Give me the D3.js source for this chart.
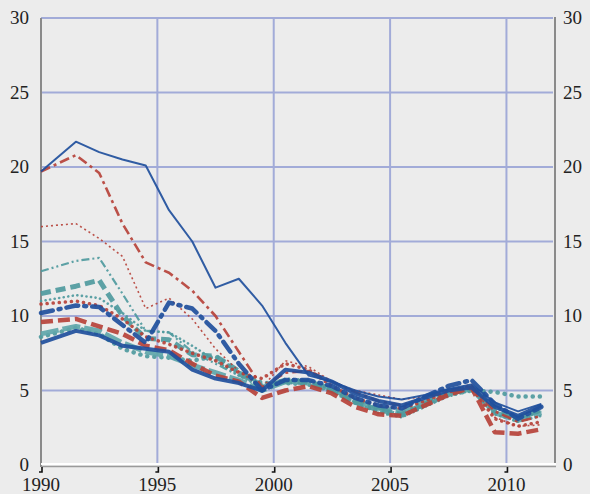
<!DOCTYPE html>
<html>
<head>
<meta charset="utf-8">
<script src="https://cdn.jsdelivr.net/npm/d3@7"></script>
<style>
body { margin: 0; background: #ececec; }
svg text { font-family: "Liberation Serif", "DejaVu Serif", serif; }
</style>
</head>
<body>
<script>
// x positions (first point at start of 1990, the rest mid-year)
let years = [1990, 1991.5, 1992.5, 1993.5, 1994.5, 1995.5, 1996.5, 1997.5, 1998.5, 1999.5, 2000.5,
	2001.5, 2002.5, 2003.5, 2004.5, 2005.5, 2006.5, 2007.5, 2008.5, 2009.5, 2010.5, 2011.5];

let yTicks = [0, 5, 10, 15, 20, 25, 30];
let xTicks = [1990, 1995, 2000, 2005, 2010];

let sA = [19.7,21.7,21.0,20.5,20.1,17.1,15.0,11.9,12.5,10.7,8.2,6.0,5.6,5.0,4.6,4.4,4.7,5.1,5.4,4.2,3.6,4.1];
let sB = [19.7,20.8,19.6,16.2,13.6,12.9,11.7,10.0,7.6,5.2,6.2,6.3,5.6,4.9,4.3,4.0,4.5,5.0,5.3,3.6,2.9,3.3];
let sC = [16.0,16.2,15.2,14.0,10.5,11.2,9.8,7.8,6.3,5.2,7.0,6.6,5.6,5.0,4.7,4.4,4.6,5.0,5.4,3.2,2.6,2.7];
let sD = [13.0,13.7,13.9,11.5,9.0,8.9,7.6,6.8,6.0,5.3,5.8,5.6,5.2,4.4,3.8,3.4,4.0,4.8,5.3,3.9,3.0,3.6];
let sE = [11.5,12.0,12.4,10.0,8.5,8.4,7.4,7.3,6.3,5.3,5.6,5.5,5.0,4.2,3.7,3.4,4.1,4.8,5.2,3.6,3.2,3.7];
let sL = [11.0,11.4,11.2,10.2,9.0,8.9,8.0,7.0,6.0,5.2,5.8,5.7,5.0,4.2,3.5,3.2,3.9,4.6,5.0,3.4,2.9,3.3];
let sF = [10.8,11.0,10.7,9.8,8.6,8.1,7.5,7.0,6.2,5.8,6.8,6.4,5.3,4.5,4.0,3.8,4.3,4.9,5.2,3.1,2.6,2.9];
let sG = [10.2,10.7,10.6,9.4,8.2,10.9,10.5,9.0,6.8,5.0,5.7,5.7,5.3,4.5,4.0,3.8,4.6,5.3,5.7,4.1,3.1,3.9];
let sH = [9.6,9.8,9.3,8.8,8.0,7.7,6.8,6.0,5.6,4.5,5.0,5.3,4.8,3.9,3.4,3.3,4.0,4.7,5.2,2.2,2.1,2.4];
let sI = [8.8,9.3,9.0,8.2,7.6,7.3,6.7,6.2,5.7,5.0,5.6,5.6,5.1,4.3,3.8,3.6,4.2,4.8,5.1,3.5,3.0,3.5];
let sJ = [8.2,9.0,8.7,8.0,7.8,7.6,6.4,5.8,5.5,5.0,6.4,6.2,5.6,4.8,4.3,4.0,4.5,5.0,5.2,3.9,3.3,4.0];
let sK = [8.6,9.2,8.8,7.8,7.3,7.2,7.0,7.3,6.2,5.5,5.5,5.4,5.0,4.2,3.6,3.3,4.0,4.7,5.0,4.9,4.6,4.6];

let blue = "#1f4f9c", red = "#b6423a", teal = "#4f9a9e";

// drawn back to front
let series = [
	{v: sK, c: teal, w: 4.5, dash: "0.1,7", cap: "round"},
	{v: sI, c: "#5fa6aa", w: 5, dash: "18,4"},
	{v: sL, c: teal, w: 2.6, dash: "0.1,4.5", cap: "round"},
	{v: sE, c: teal, w: 5, dash: "10,5"},
	{v: sD, c: teal, w: 2.2, dash: "8,3,2,3,2,3"},
	{v: sC, c: red, w: 1.6, dash: "2,3"},
	{v: sF, c: red, w: 3.5, dash: "0.1,6", cap: "round"},
	{v: sH, c: red, w: 4.5, dash: "12,5"},
	{v: sB, c: red, w: 2.6, dash: "10,4,3,4"},
	{v: sG, c: blue, w: 4.5, dash: "12,6,2,6", cap: "round"},
	{v: sJ, c: blue, w: 4, dash: null},
	{v: sA, c: blue, w: 2, dash: null}
];

let width = 590, height = 494;
let x = d3.scaleLinear().domain([1990, 2012]).range([41, 553]);
let y = d3.scaleLinear().domain([0, 30]).range([465, 18]);

let svg = d3.select("body").append("svg")
	.attr("width", width)
	.attr("height", height)
	.style("background", "#ececec")
	.attr("font-size", 19)
	.attr("fill", "#222");

// grid
svg.append("g").selectAll("line")
	.data(yTicks.filter(d => d > 0))
	.enter().append("line")
	.attr("x1", x(1990)).attr("x2", x(2012))
	.attr("y1", d => y(d)).attr("y2", d => y(d))
	.attr("stroke", "#a2abd8").attr("stroke-width", 2);

svg.append("g").selectAll("line")
	.data(xTicks.filter(d => d > 1990))
	.enter().append("line")
	.attr("x1", d => x(d)).attr("x2", d => x(d))
	.attr("y1", y(30)).attr("y2", y(0))
	.attr("stroke", "#a2abd8").attr("stroke-width", 2);

// axes lines
svg.append("line").attr("x1", x(1990)).attr("x2", x(1990)).attr("y1", y(30)).attr("y2", y(0) + 2)
	.attr("stroke", "#8a8a8a").attr("stroke-width", 2);
svg.append("line").attr("x1", x(2012) + 2).attr("x2", x(2012) + 2).attr("y1", y(30) - 1).attr("y2", y(0) - 2)
	.attr("stroke", "#8a8a8a").attr("stroke-width", 2);
svg.append("line").attr("x1", x(1990)).attr("x2", x(2012) + 3).attr("y1", y(0) - 1).attr("y2", y(0) - 1)
	.attr("stroke", "#ffffff").attr("stroke-width", 2);
svg.append("line").attr("x1", x(1990)).attr("x2", x(2012) + 3).attr("y1", y(0) + 1.5).attr("y2", y(0) + 1.5)
	.attr("stroke", "#9a9a9a").attr("stroke-width", 1.5);

// x ticks
svg.append("g").selectAll("path")
	.data(xTicks)
	.enter().append("path")
	.attr("d", d => "M" + (x(d) + 1) + "," + (y(0) + 2) + "v5h-3")
	.attr("fill", "none").attr("stroke", "#111").attr("stroke-width", 1.6);

// lines
let line = d3.line()
	.x((d, i) => x(years[i]))
	.y(d => y(d));

svg.append("g").selectAll("path")
	.data(series)
	.enter().append("path")
	.attr("d", d => line(d.v))
	.attr("fill", "none")
	.attr("stroke", d => d.c)
	.attr("stroke-width", d => d.w)
	.attr("stroke-dasharray", d => d.dash)
	.attr("stroke-linecap", d => d.cap || "butt")
	.attr("stroke-linejoin", "round")
	.attr("opacity", 0.92);

// labels
svg.append("g").selectAll("text")
	.data(yTicks)
	.enter().append("text")
	.attr("x", 29).attr("y", d => y(d) + 6)
	.attr("text-anchor", "end")
	.text(d => d);

svg.append("g").selectAll("text")
	.data(yTicks)
	.enter().append("text")
	.attr("x", 563).attr("y", d => y(d) + 6)
	.attr("text-anchor", "start")
	.text(d => d);

svg.append("g").selectAll("text")
	.data(xTicks)
	.enter().append("text")
	.attr("x", d => x(d)).attr("y", 491)
	.attr("text-anchor", "middle")
	.text(d => d);
</script>
</body>
</html>
